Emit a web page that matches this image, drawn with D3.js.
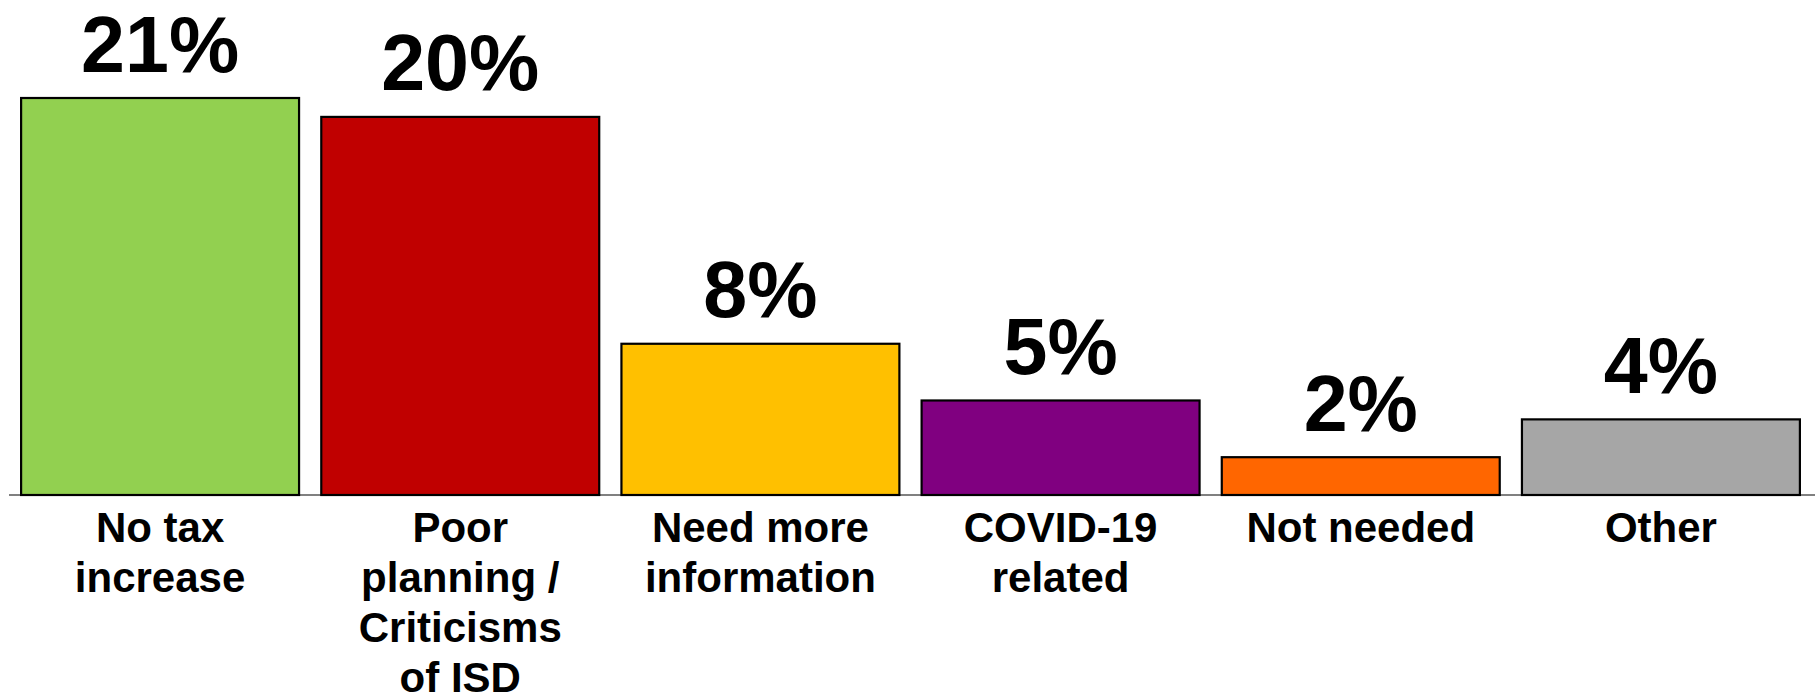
<!DOCTYPE html>
<html>
<head>
<meta charset="utf-8">
<script src="https://cdn.jsdelivr.net/npm/d3@7"></script>
<style>
  body { margin: 0; background: #fff; }
  text { font-family: "Liberation Sans", Arial, sans-serif; font-weight: bold; fill: #000; }
</style>
</head>
<body>
<div id="chart"></div>
<script>
// data
const categories = [
  ["No tax", "increase"],
  ["Poor", "planning /", "Criticisms", "of ISD"],
  ["Need more", "information"],
  ["COVID-19", "related"],
  ["Not needed"],
  ["Other"]
]
const values = [21, 20, 8, 5, 2, 4]
const colors = ["#92D050", "#C00000", "#FFC000", "#800080", "#FF6600", "#A6A6A6"]

const width = 1815
const height = 697
const baseY = 495

const svg = d3.select("#chart")
  .append("svg")
  .attr("width", width)
  .attr("height", height)

const keys = categories.map((c, i) => i)

// horizontal position
const x = d3.scaleBand()
  .domain(keys)
  .range([10, 1811])
  .paddingInner(0.074)
  .paddingOuter(0.037)

// vertical position
const y = d3.scaleLinear()
  .domain([0, 21])
  .range([baseY, 98])

// bars
svg.selectAll("rect.bar")
  .data(values)
  .enter()
  .append("rect")
  .attr("class", "bar")
  .attr("x", (d, i) => x(i))
  .attr("width", x.bandwidth())
  .attr("y", d => y(d))
  .attr("height", d => y(0) - y(d))
  .attr("fill", (d, i) => colors[i])
  .attr("stroke", "#000")
  .attr("stroke-width", 2.2)

// axis line
const axisGroup = svg.append("g")
  .attr("transform", `translate(0, ${baseY})`)
  .call(d3.axisBottom(x).tickSize(0).tickFormat(""))
axisGroup.select(".domain")
  .attr("d", "M9,0H1815")
  .attr("stroke", "#808080")
  .attr("stroke-width", 2)
axisGroup.lower()

// value labels
svg.selectAll("text.value")
  .data(values)
  .enter()
  .append("text")
  .attr("class", "value")
  .attr("x", (d, i) => x(i) + x.bandwidth() / 2)
  .attr("y", d => y(d) - 26.5)
  .attr("text-anchor", "middle")
  .style("font-size", "79px")
  .text(d => d + "%")

// category labels
const labels = svg.selectAll("text.cat")
  .data(categories)
  .enter()
  .append("text")
  .attr("class", "cat")
  .attr("text-anchor", "middle")
  .style("font-size", "42px")

labels.selectAll("tspan")
  .data((d, i) => d.map(line => ({ line, i })))
  .enter()
  .append("tspan")
  .attr("x", d => x(d.i) + x.bandwidth() / 2)
  .attr("y", (d, j) => 541.5 + j * 50)
  .text(d => d.line)
</script>
</body>
</html>
